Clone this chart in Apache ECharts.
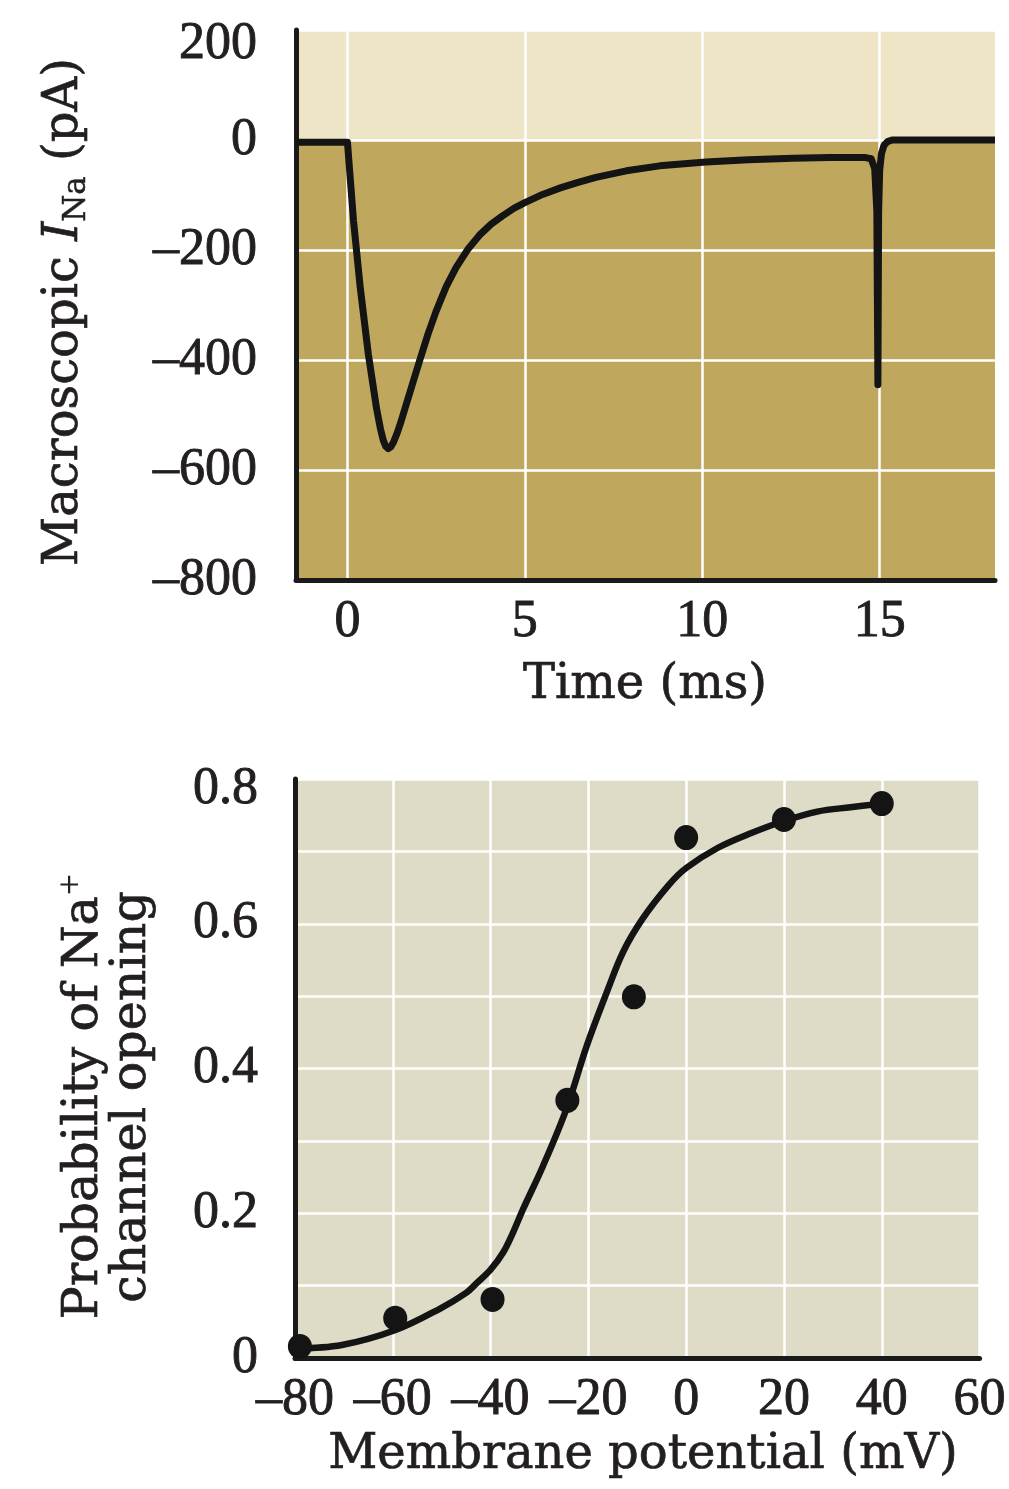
<!DOCTYPE html>
<html><head><meta charset="utf-8">
<script src="https://cdn.jsdelivr.net/npm/echarts@6/dist/echarts.min.js"></script>
<style>html,body{margin:0;padding:0;background:#fff}#c{width:1009px;height:1489px}</style>
</head><body><div id="c"></div>
<script>
// ---- Top panel: macroscopic Na+ current vs time ----
const timeMs = [-1.45, -0.5, 0, 0.03, 0.17, 0.36, 0.59, 0.82, 0.93, 1.01, 1.08, 1.15, 1.22, 1.3, 1.4, 1.5, 1.66, 1.85, 2.04, 2.27, 2.5, 2.78, 3.06, 3.4, 3.72, 4.05, 4.37, 4.7, 5.0, 5.5, 6.0, 6.5, 7.0, 7.86, 8.8, 10.1, 11.3, 12.55, 13.6, 14.6, 14.76, 14.86, 14.92, 14.95, 14.97, 15.0, 15.05, 15.12, 15.22, 15.35, 15.5, 16.5, 18.25];
const currentPA = [-4, -4, -4, -5, -146, -268, -390, -488, -525, -546, -557, -561, -558, -549, -533, -514, -480, -440, -400, -353, -311, -267, -232, -198, -173, -153, -138, -124, -114, -99, -87, -77, -68, -56, -47, -40, -36, -33, -32, -32, -34, -52, -130, -445, -130, -55, -25, -10, -3, 0, 0, 0, 0];
const timeTicks = [0, 5, 10, 15];

// ---- Bottom panel: open probability vs membrane potential ----
const potentialMV = [-79, -59.5, -39.6, -24.3, -10.7, 0, 20, 40];
const openProb = [0.016, 0.055, 0.081, 0.356, 0.499, 0.719, 0.744, 0.766];
const fitMV = [-80, -70.4, -59.3, -50.4, -45, -42.9, -40, -37.5, -35.5, -33.4, -29.3, -24.5, -20.3, -16.2, -12.9, -8.9, -3.5, 0, 6.5, 13.2, 20, 26.8, 33.6, 40];
const fitProb = [0.013, 0.018, 0.039, 0.068, 0.09, 0.103, 0.122, 0.145, 0.172, 0.205, 0.265, 0.344, 0.432, 0.506, 0.561, 0.607, 0.654, 0.677, 0.705, 0.725, 0.742, 0.755, 0.761, 0.766];
const probTicks = [0, 0.2, 0.4, 0.6, 0.8];

const TITLE_FONT = 'DejaVu Serif';
const TICK_FONT = 'Liberation Serif';
const INK = '#231f20';
const LIGHT_TOP = '#eee4c6';
const DARK_TOP = '#bfa85e';
const BG_BOTTOM = '#dedcc6';

const chart = echarts.init(document.getElementById('c'), null, {renderer: 'canvas'});

const axisLine = {show: true, onZero: false, lineStyle: {color: '#1a1a1a', width: 5}};
const split = {show: true, lineStyle: {color: '#ffffff', width: 2.5}};
const tickLbl = {color: INK, fontFamily: TICK_FONT, fontSize: 52, textBorderColor: INK, textBorderWidth: 0.9};
const topRich = {t: {fontFamily: TICK_FONT, fontSize: 52, color: INK, textBorderColor: INK, textBorderWidth: 0.9, padding: [28, 0, 0, 0]}};

chart.setOption({
  animation: false,
  backgroundColor: '#ffffff',
  grid: [
    {left: 296, top: 30, width: 699, height: 550, show: true, backgroundColor: DARK_TOP, borderWidth: 0},
    {left: 295, top: 779, width: 692, height: 579, show: true, backgroundColor: BG_BOTTOM, borderWidth: 0}
  ],
  xAxis: [
    {type: 'value', gridIndex: 0, min: -1.45, max: 18.25,
     axisLine: axisLine, axisTick: {show: false, customValues: timeTicks},
     axisLabel: Object.assign({customValues: timeTicks, margin: 16}, tickLbl),
     splitLine: split},
    {type: 'value', gridIndex: 1, min: -80, max: 60, interval: 20,
     axisLine: axisLine, axisTick: {show: false},
     axisLabel: Object.assign({margin: 16, showMinLabel: true, showMaxLabel: true,
       formatter: v => (v < 0 ? '\u2013' + Math.abs(v) : String(v))}, tickLbl),
     splitLine: split}
  ],
  yAxis: [
    {type: 'value', gridIndex: 0, min: -800, max: 200, interval: 200,
     axisLine: axisLine, axisTick: {show: false},
     axisLabel: Object.assign({margin: 39, rich: topRich,
       formatter: v => (v === 200 ? '{t|200}' : (v < 0 ? '\u2013' + Math.abs(v) : String(v)))}, tickLbl),
     splitLine: split,
     splitArea: {show: true, areaStyle: {color: [DARK_TOP, DARK_TOP, DARK_TOP, DARK_TOP, LIGHT_TOP]}}},
    {type: 'value', gridIndex: 1, min: 0, max: 0.8, interval: 0.1,
     axisLine: axisLine, axisTick: {show: false},
     axisLabel: Object.assign({margin: 37, customValues: probTicks, rich: {t: Object.assign({}, topRich.t, {padding: [20, 0, 0, 0]})},
       formatter: v => (Math.abs(v) < 1e-9 ? '0' : (Math.abs(v - 0.8) < 1e-9 ? '{t|0.8}' : v.toFixed(1)))}, tickLbl),
     splitLine: split}
  ],
  series: [
    {type: 'line', xAxisIndex: 0, yAxisIndex: 0, showSymbol: false, smooth: false,
     data: timeMs.map((t, i) => [t, currentPA[i]]),
     lineStyle: {color: '#141414', width: 7, join: 'round', cap: 'butt'}},
    {type: 'line', xAxisIndex: 1, yAxisIndex: 1, showSymbol: false, smooth: 0.35,
     data: fitMV.map((v, i) => [v, fitProb[i]]),
     lineStyle: {color: '#141414', width: 6.5, join: 'round'}},
    {type: 'scatter', xAxisIndex: 1, yAxisIndex: 1, symbol: 'circle', symbolSize: [24, 25],
     data: potentialMV.map((v, i) => [v, openProb[i]]),
     itemStyle: {color: '#141414', opacity: 1}, z: 5}
  ],
  graphic: [
    {type: 'text', x: 645, y: 686, style: {text: 'Time (ms)', fill: INK, font: '48px "' + TITLE_FONT + '"', align: 'center', verticalAlign: 'middle', stroke: INK, lineWidth: 0.7}},
    {type: 'text', x: 643, y: 1456, style: {text: 'Membrane potential (mV)', fill: INK, font: '48px "' + TITLE_FONT + '"', align: 'center', verticalAlign: 'middle', stroke: INK, lineWidth: 0.7}},
    {type: 'text', x: 65, y: 312, rotation: Math.PI / 2,
     style: {text: '{a|Macroscopic }{i|I}{s|Na}{a| (pA)}', fill: INK, align: 'center', verticalAlign: 'middle',
       rich: {
         a: {fontFamily: TITLE_FONT, fontSize: 48, lineHeight: 54, fill: INK, stroke: INK, lineWidth: 0.7},
         i: {fontFamily: TITLE_FONT, fontSize: 48, fontStyle: 'italic', lineHeight: 54, fill: INK, stroke: INK, lineWidth: 0.7},
         s: {fontFamily: TITLE_FONT, fontSize: 31, lineHeight: 31, verticalAlign: 'bottom', fill: INK, stroke: INK, lineWidth: 0.5}
       }}},
    {type: 'text', x: 84, y: 1096, rotation: Math.PI / 2,
     style: {text: '{a|Probability of Na}{p|+}', fill: INK, align: 'center', verticalAlign: 'middle',
       rich: {
         a: {fontFamily: TITLE_FONT, fontSize: 49, lineHeight: 54, fill: INK, stroke: INK, lineWidth: 0.7},
         p: {fontFamily: TITLE_FONT, fontSize: 28, lineHeight: 28, verticalAlign: 'top', fill: INK}
       }}},
    {type: 'text', x: 132, y: 1097, rotation: Math.PI / 2,
     style: {text: 'channel opening', fill: INK, font: '49px "' + TITLE_FONT + '"', align: 'center', verticalAlign: 'middle', stroke: INK, lineWidth: 0.7}}
  ]
});
</script>
</body></html>
